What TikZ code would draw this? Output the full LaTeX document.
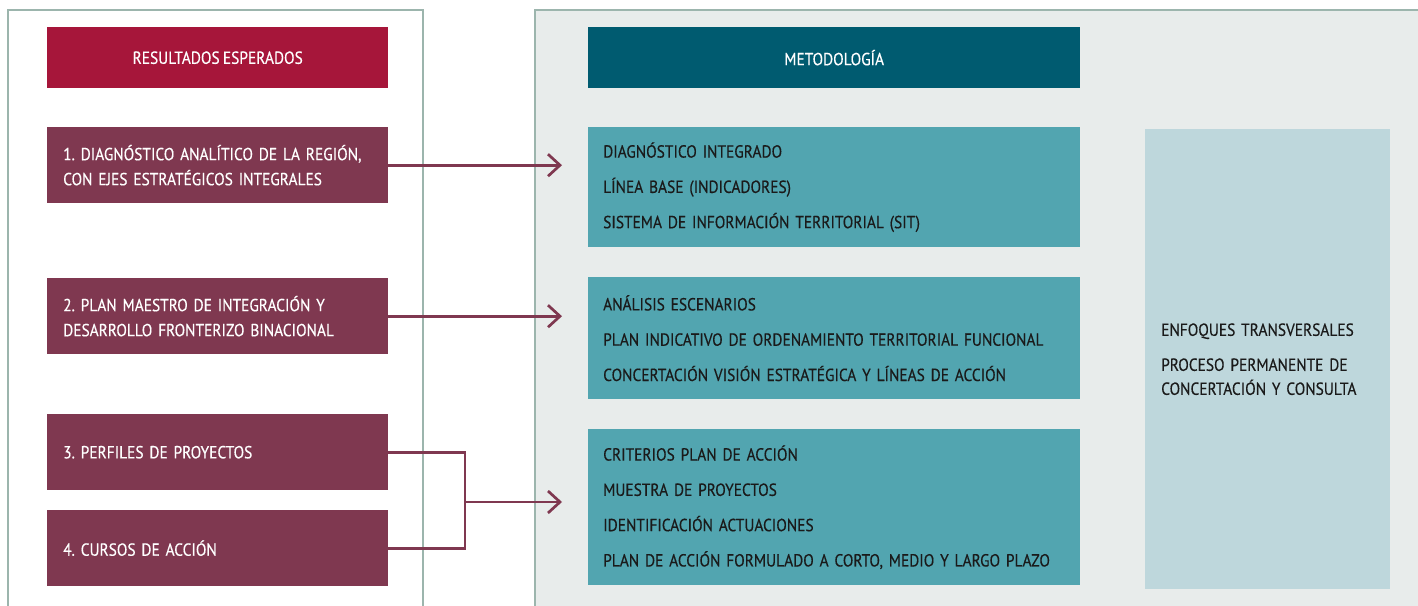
\documentclass[tikz,border=0pt]{standalone}
\usepackage{fontspec}
\setmainfont{PT Sans}[FakeStretch=0.88, WordSpace=0.8, FakeBold=0.4]
\frenchspacing
\usetikzlibrary{arrows.meta}
\definecolor{tred}{HTML}{A6163A}
\definecolor{tteal}{HTML}{005B70}
\definecolor{lbox}{HTML}{7F3850}
\definecolor{mbox}{HTML}{52A5B0}
\definecolor{sbox}{HTML}{BED7DC}
\definecolor{panel}{HTML}{E8ECEB}
\definecolor{pborder}{HTML}{9CB5AD}
\definecolor{dtext}{HTML}{1A1A1A}
\definecolor{conncol}{HTML}{7F3850}
\tikzset{
  title/.style={anchor=north west, inner sep=0pt, minimum height=61pt, text=white, font=\fontsize{17.5}{20}\selectfont},
  lbx/.style={anchor=north west, fill=lbox, inner xsep=16pt, inner ysep=0pt, text width=309pt, minimum height=76pt, align=left, text=white, font=\fontsize{17.5}{25}\selectfont},
  mbx/.style={anchor=north west, fill=mbox, inner xsep=15pt, inner ysep=0pt, text width=462pt, align=left, text=dtext, font=\fontsize{17.5}{35.3}\selectfont},
  sbx/.style={anchor=north west, fill=sbox, inner xsep=16pt, inner ysep=0pt, text width=213pt, minimum height=460pt, align=left, text=dtext, font=\fontsize{17.5}{24}\selectfont},
  conn/.style={draw=conncol, line width=2.7pt},
  arr/.style={conn, -{Straight Barb[length=12pt,width=22pt]}},
  pline/.style={draw=pborder, line width=1.5pt}
}
\begin{document}
\begin{tikzpicture}[x=1pt,y=-1pt]
\useasboundingbox (0,0) rectangle (1418,605);
% panels
\fill[panel] (535,10) rectangle (1425,615);
\draw[pline] (535,615) -- (535,10) -- (1425,10);
\draw[pline] (8,615) -- (8,10) -- (423,10) -- (423,615);
% titles
\node[title, fill=tred, minimum width=341pt] (t1) at (47,27) {RESULTADOS ESPERADOS};
\node[title, fill=tteal, minimum width=492pt] (t2) at (588,27) {METODOLOGÍA};
% left boxes
\node[lbx] (b1) at (47,127) {1. DIAGNÓSTICO ANALÍTICO DE LA REGIÓN,\\CON EJES ESTRATÉGICOS INTEGRALES};
\node[lbx] (b2) at (47,278) {2. PLAN MAESTRO DE INTEGRACIÓN Y\\DESARROLLO FRONTERIZO BINACIONAL};
\node[lbx] (b3) at (47,414) {3. PERFILES DE PROYECTOS};
\node[lbx] (b4) at (47,510) {4. CURSOS DE ACCIÓN};
% method boxes
\node[mbx, minimum height=120pt] (m1) at (588,127) {DIAGNÓSTICO INTEGRADO\\LÍNEA BASE (INDICADORES)\\SISTEMA DE INFORMACIÓN TERRITORIAL (SIT)};
\node[mbx, minimum height=122pt] (m2) at (588,277) {ANÁLISIS ESCENARIOS\\PLAN INDICATIVO DE ORDENAMIENTO TERRITORIAL FUNCIONAL\\CONCERTACIÓN VISIÓN ESTRATÉGICA Y LÍNEAS DE ACCIÓN};
\node[mbx, minimum height=156pt] (m3) at (588,429) {CRITERIOS PLAN DE ACCIÓN\\MUESTRA DE PROYECTOS\\IDENTIFICACIÓN ACTUACIONES\\PLAN DE ACCIÓN FORMULADO A CORTO, MEDIO Y LARGO PLAZO};
\node[sbx] (s) at (1145,129) {ENFOQUES TRANSVERSALES\\[11pt]PROCESO PERMANENTE DE\\CONCERTACIÓN Y CONSULTA};
% connectors
\draw[arr] (b1.east) -- ([xshift=-26pt]b1.east -| m1.west);
\draw[arr] (b2.east) -- ([xshift=-26pt]b2.east -| m2.west);
\coordinate (j) at (465,502);
\draw[conn] (b3.east) -| (j) |- (b4.east);
\draw[arr] (j) -- ([xshift=-26pt]j -| m3.west);
\end{tikzpicture}
\end{document}
